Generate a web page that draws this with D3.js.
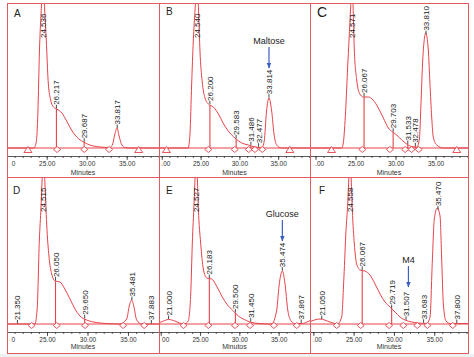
<!DOCTYPE html>
<html><head><meta charset="utf-8">
<script src="https://cdn.jsdelivr.net/npm/d3@7"></script>
<style>body{margin:0;background:#fff}svg{display:block}</style>
</head><body>
<svg id="c" width="474" height="357"></svg>
<script>
// ---------- DATA ----------
const panelIds = ["A","B","C","D","E","F"];
const axisTitles = ["Minutes","Minutes","Minutes","Minutes","Minutos","Minutes"];
const tickMinutes = [20,25,30,35,40];
const tickLabels = ["20.00","25.00","30.00","35.00","40.00"];

// visible time window of each panel (minutes)
const axisA = [20.04, 39.04];
const axisB = [19.64, 39.10];
const axisC = [19.31, 39.06];
const axisD = [20.06, 38.83];
const axisE = [19.78, 38.99];
const axisF = [19.59, 39.19];

// detector traces [minutes, signal]
const traceA = [[19.5,0],[23.4,0],[23.7,6],[23.9,35],[24.1,98],[24.3,135],[24.54,162],[24.75,138],[24.95,108],[25.2,65],[25.5,48],[25.85,41],[26.25,39],[26.9,35],[27.5,27],[28.1,18],[28.75,11],[29.6,6],[30.4,3],[31.7,1],[32.9,0.5],[33.25,4],[33.5,13],[33.8,20],[34.05,12],[34.4,3],[34.8,0.5],[35.5,0],[39.5,0]];
const traceB = [[19.5,0],[23.4,0],[23.63,14],[23.85,64],[24.06,107],[24.3,140],[24.54,165],[24.75,135],[24.92,97],[25.2,67],[25.57,50],[26.0,44],[26.64,41],[27.3,34],[27.9,25],[28.57,17],[29.43,10],[30.3,5],[31.15,3],[32.0,1],[32.9,0.5],[33.2,7],[33.5,37],[33.81,50],[34.16,37],[34.46,14],[34.8,3],[35.4,0],[39.5,0]];
const traceC = [[19.3,0],[23.27,0],[23.47,5],[23.77,38],[24.02,81],[24.19,108],[24.4,142],[24.57,165],[24.72,135],[24.85,98],[25.15,68],[25.48,55],[25.98,51],[26.6,51],[27.2,48],[27.85,40],[28.48,30],[29.1,20],[29.65,16],[30.15,13],[30.77,8],[31.4,4],[32.0,1.5],[32.65,1],[32.97,8],[33.2,48],[33.4,88],[33.78,115],[34.1,98],[34.3,65],[34.52,31],[34.72,11],[35.15,3],[36,0],[39.5,0]];
const traceD = [[19.5,0],[23.5,0],[23.8,17],[24.05,83],[24.26,117],[24.4,145],[24.55,170],[24.75,140],[24.96,100],[25.25,67],[25.58,50],[26.0,43],[26.6,42],[27.2,35],[27.84,25],[28.46,15],[29.07,8],[29.9,4],[31.1,1.5],[32.3,0.5],[34.0,0],[34.84,5],[35.16,18],[35.46,24],[35.74,17],[36.07,4],[36.7,0],[39.5,0]];
const traceE = [[19.5,0.5],[20.2,2.5],[21.0,4.5],[21.8,3],[22.4,1],[23.0,0],[23.5,3],[23.82,31],[24.02,81],[24.24,121],[24.38,148],[24.53,170],[24.66,145],[24.79,115],[25.08,81],[25.42,55],[25.85,46],[26.48,45],[27.1,38],[27.76,28],[28.4,20],[29.24,13],[29.87,8],[30.5,5],[31.36,2],[32.5,0.5],[34.1,0],[34.76,14],[35.05,38],[35.47,53],[35.8,41],[36.16,14],[36.58,3],[37.0,0.5],[38.0,0.5],[38.6,2],[39.2,4]];
const traceF = [[19.5,2],[20.83,5],[22.07,2],[23.0,0],[23.52,7],[23.8,47],[24.06,94],[24.27,120],[24.42,148],[24.56,170],[24.7,145],[24.84,114],[25.09,80],[25.38,60],[25.8,54],[26.4,53],[27.03,49],[27.66,40],[28.28,30],[28.9,22],[29.52,17],[30.14,12],[30.76,7],[31.38,4],[32.2,2],[33.0,1],[34.07,0.5],[34.48,7],[34.77,64],[35.01,105],[35.38,116],[35.72,108],[35.93,64],[36.13,20],[36.46,3],[37.0,0.5],[39.5,0.5]];

// peak retention-time labels
const peaksA = ["24.536","26.217","29.687","33.817"];
const peaksB = ["24.540","26.200","29.583","31.486","32.477","33.814"];
const peaksC = ["24.571","26.067","29.703","31.533","32.478","33.810"];
const peaksD = ["21.350","24.515","26.050","29.650","35.481","37.883"];
const peaksE = ["21.000","24.527","26.183","29.500","31.450","35.474","37.867"];
const peaksF = ["21.050","24.558","26.067","29.719","31.507","33.683","35.470","37.800"];

// integration drop lines
const dropsA = [26.217, 29.687];
const dropsB = [26.200, 29.583, 31.486, 32.477];
const dropsC = [26.067, 29.703, 31.533, 32.478];
const dropsD = [26.050, 29.650];
const dropsE = [26.183, 29.500];
const dropsF = [26.067, 29.719];

// baseline event markers
const diamondsA = [26.3, 29.7, 32.8];
const diamondsB = [26.0, 29.4, 31.2, 32.0, 32.95];
const diamondsC = [25.85, 29.3, 31.2, 32.0, 32.9];
const diamondsD = [23.1, 26.2, 29.7, 34.4, 37.0];
const diamondsE = [22.9, 26.06, 29.45, 31.36, 34.4, 37.3];
const diamondsF = [22.9, 25.88, 29.4, 31.17, 32.9, 34.15, 37.3];
const trianglesA = [22.66, 36.5];
const trianglesB = [20.6, 36.5];
const trianglesC = [22.0, 37.65];
const trianglesD = [], trianglesE = [], trianglesF = [];

// annotations (arrow tip given in signal units)
const annPanels = ["B","E","F"];
const annTexts = ["Maltose","Glucose","M4"];
const annTimes = [33.814, 35.474, 31.8];
const annTips = [80, 83, 37];

// ---------- LAYOUT ----------
const svg = d3.select("#c");
const W = 474, H = 357;
const FONT = "Liberation Sans, Arial, sans-serif";
svg.append("rect").attr("width", W).attr("height", H).attr("fill", "#fff");
svg.append("rect").attr("x", 0).attr("y", 354).attr("width", W).attr("height", 3).attr("fill", "#edf1f1");

const RED = "#e6434a";
const cols = [[7,159],[159,310],[310,468]];
const rows = [
  {top:3, bottom:177, base:148, axis:156, title:174.5},
  {top:177, bottom:353, base:324, axis:332, title:348.5}
];
const panels = [
  {dom:axisA, trace:traceA, peaks:peaksA, drops:dropsA, dia:diamondsA, tri:trianglesA},
  {dom:axisB, trace:traceB, peaks:peaksB, drops:dropsB, dia:diamondsB, tri:trianglesB},
  {dom:axisC, trace:traceC, peaks:peaksC, drops:dropsC, dia:diamondsC, tri:trianglesC},
  {dom:axisD, trace:traceD, peaks:peaksD, drops:dropsD, dia:diamondsD, tri:trianglesD},
  {dom:axisE, trace:traceE, peaks:peaksE, drops:dropsE, dia:diamondsE, tri:trianglesE},
  {dom:axisF, trace:traceF, peaks:peaksF, drops:dropsF, dia:diamondsF, tri:trianglesF}
];
const letterPos = [[14,17,10],[166,15,10],[317,17,14],[13,194,10],[166,194,10],[319,194,10]];

const defs = svg.append("defs");
defs.append("marker").attr("id","arr").attr("viewBox","0 0 10 10").attr("refX",9).attr("refY",5)
  .attr("markerWidth",5).attr("markerHeight",5).attr("orient","auto")
  .append("path").attr("d","M0,1 L10,5 L0,9 Z").attr("fill","#3d5fc4");

function interp(trace, t) {
  for (let i = 1; i < trace.length; i++) {
    if (t <= trace[i][0]) {
      const [t0,v0] = trace[i-1], [t1,v1] = trace[i];
      return v0 + (v1 - v0) * (t - t0) / (t1 - t0);
    }
  }
  return trace[trace.length-1][1];
}

panels.forEach((p, i) => {
  const c = cols[i % 3], r = rows[Math.floor(i / 3)];
  const id = panelIds[i];
  const x = d3.scaleLinear().domain(p.dom).range(c);
  const y = d3.scaleLinear().domain([0, 100]).range([r.base, r.base - 100]);

  defs.append("clipPath").attr("id", "clip" + id).append("rect")
    .attr("x", c[0]).attr("y", r.top).attr("width", c[1] - c[0]).attr("height", r.bottom - r.top);
  const g = svg.append("g").attr("clip-path", `url(#clip${id})`);

  // axis
  const minor = d3.axisBottom(x).tickValues(d3.range(18, 42)).tickSize(2).tickSizeOuter(0).tickFormat("");
  const major = d3.axisBottom(x).tickValues(tickMinutes).tickSize(4).tickSizeOuter(0).tickPadding(1.5)
    .tickFormat((d, k) => tickLabels[k]);
  const ga = g.append("g").attr("transform", `translate(0,${r.axis})`);
  ga.call(minor);
  const gm = ga.append("g").call(major);
  ga.selectAll("path.domain").attr("stroke", "#333").attr("stroke-width", 0.8);
  ga.selectAll("line").attr("stroke", "#333").attr("stroke-width", 0.8);
  gm.selectAll("text").attr("font-family", FONT).attr("font-size", 6.5).attr("fill", "#333");
  gm.selectAll("path.domain").remove();
  // keep only the characters of edge tick labels that are visible inside the panel
  gm.selectAll(".tick text").each(function(d) {
    const node = this, tx = x(d), s = node.textContent;
    const keep = [];
    let firstX = null;
    for (let k = 0; k < s.length; k++) {
      const e = node.getExtentOfChar(k);
      if (tx + e.x >= c[0] + 1 && tx + e.x + e.width <= c[1] - 1) {
        if (firstX === null) firstX = e.x;
        keep.push(s[k]);
      }
    }
    if (keep.length === s.length) return;
    if (!keep.length) { d3.select(node).remove(); return; }
    d3.select(node).attr("text-anchor", "start").attr("x", firstX).text(keep.join(""));
  });
  g.append("text").attr("x", (c[0] + c[1]) / 2).attr("y", r.title).attr("text-anchor", "middle")
    .attr("font-family", FONT).attr("font-size", 7).attr("fill", "#333")
    .text(axisTitles[i]);

  // baseline
  g.append("line").attr("x1", c[0]).attr("x2", c[1]).attr("y1", y(0)).attr("y2", y(0))
    .attr("stroke", RED).attr("stroke-width", 1);

  // trace
  const line = d3.line().x(d => x(d[0])).y(d => y(d[1])).curve(d3.curveMonotoneX);
  g.append("path").datum(p.trace).attr("d", line).attr("fill", "none")
    .attr("stroke", RED).attr("stroke-width", 1);

  // drop lines
  p.drops.forEach(t => {
    g.append("line").attr("x1", x(t)).attr("x2", x(t)).attr("y1", y(0)).attr("y2", y(interp(p.trace, t)))
      .attr("stroke", RED).attr("stroke-width", 1.1);
  });

  // markers
  const my = y(0) + 1.5;
  p.dia.forEach(t => {
    const cx = x(t);
    g.append("path").attr("d", `M${cx-3.5},${my} L${cx},${my-3} L${cx+3.5},${my} L${cx},${my+3} Z`)
      .attr("fill", "#fff").attr("stroke", RED).attr("stroke-width", 0.9);
  });
  p.tri.forEach(t => {
    const cx = x(t);
    g.append("path").attr("d", `M${cx-4},${my+3} L${cx},${my-3} L${cx+4},${my+3} Z`)
      .attr("fill", "#fff").attr("stroke", RED).attr("stroke-width", 0.9);
  });

  // peak labels
  p.peaks.forEach(s => {
    const t = +s;
    const py = y(interp(p.trace, t));
    let start;
    if (py < r.top + 3) {
      start = r.top + 35;
    } else {
      g.append("line").attr("x1", x(t)).attr("x2", x(t)).attr("y1", py - 0.5).attr("y2", py - 4)
        .attr("stroke", "#333").attr("stroke-width", 0.9);
      start = py - 4;
    }
    g.append("text").attr("transform", `translate(${x(t) + 3},${start}) rotate(-90)`)
      .attr("font-family", FONT).attr("font-size", 8)
      .attr("fill", "#222").text(s);
  });

  // panel letter
  svg.append("text").attr("x", letterPos[i][0]).attr("y", letterPos[i][1])
    .attr("font-family", FONT).attr("font-size", letterPos[i][2])
    .attr("fill", "#222").text(id);

  // annotations
  annPanels.forEach((ap, k) => {
    if (ap !== id) return;
    const ax = x(annTimes[k]), tip = y(annTips[k]);
    svg.append("line").attr("x1", ax).attr("x2", ax).attr("y1", tip - 21).attr("y2", tip)
      .attr("stroke", "#3d5fc4").attr("stroke-width", 1.2).attr("marker-end", "url(#arr)");
    svg.append("text").attr("x", ax).attr("y", tip - 24).attr("text-anchor", "middle")
      .attr("font-family", FONT).attr("font-size", 9)
      .attr("fill", "#222").text(annTexts[k]);
  });

  // border
  svg.append("rect").attr("x", c[0] + 0.5).attr("y", r.top + 0.5)
    .attr("width", c[1] - c[0]).attr("height", r.bottom - r.top)
    .attr("fill", "none").attr("stroke", "#e05a5e").attr("stroke-width", 1);
});
</script>
</body></html>
